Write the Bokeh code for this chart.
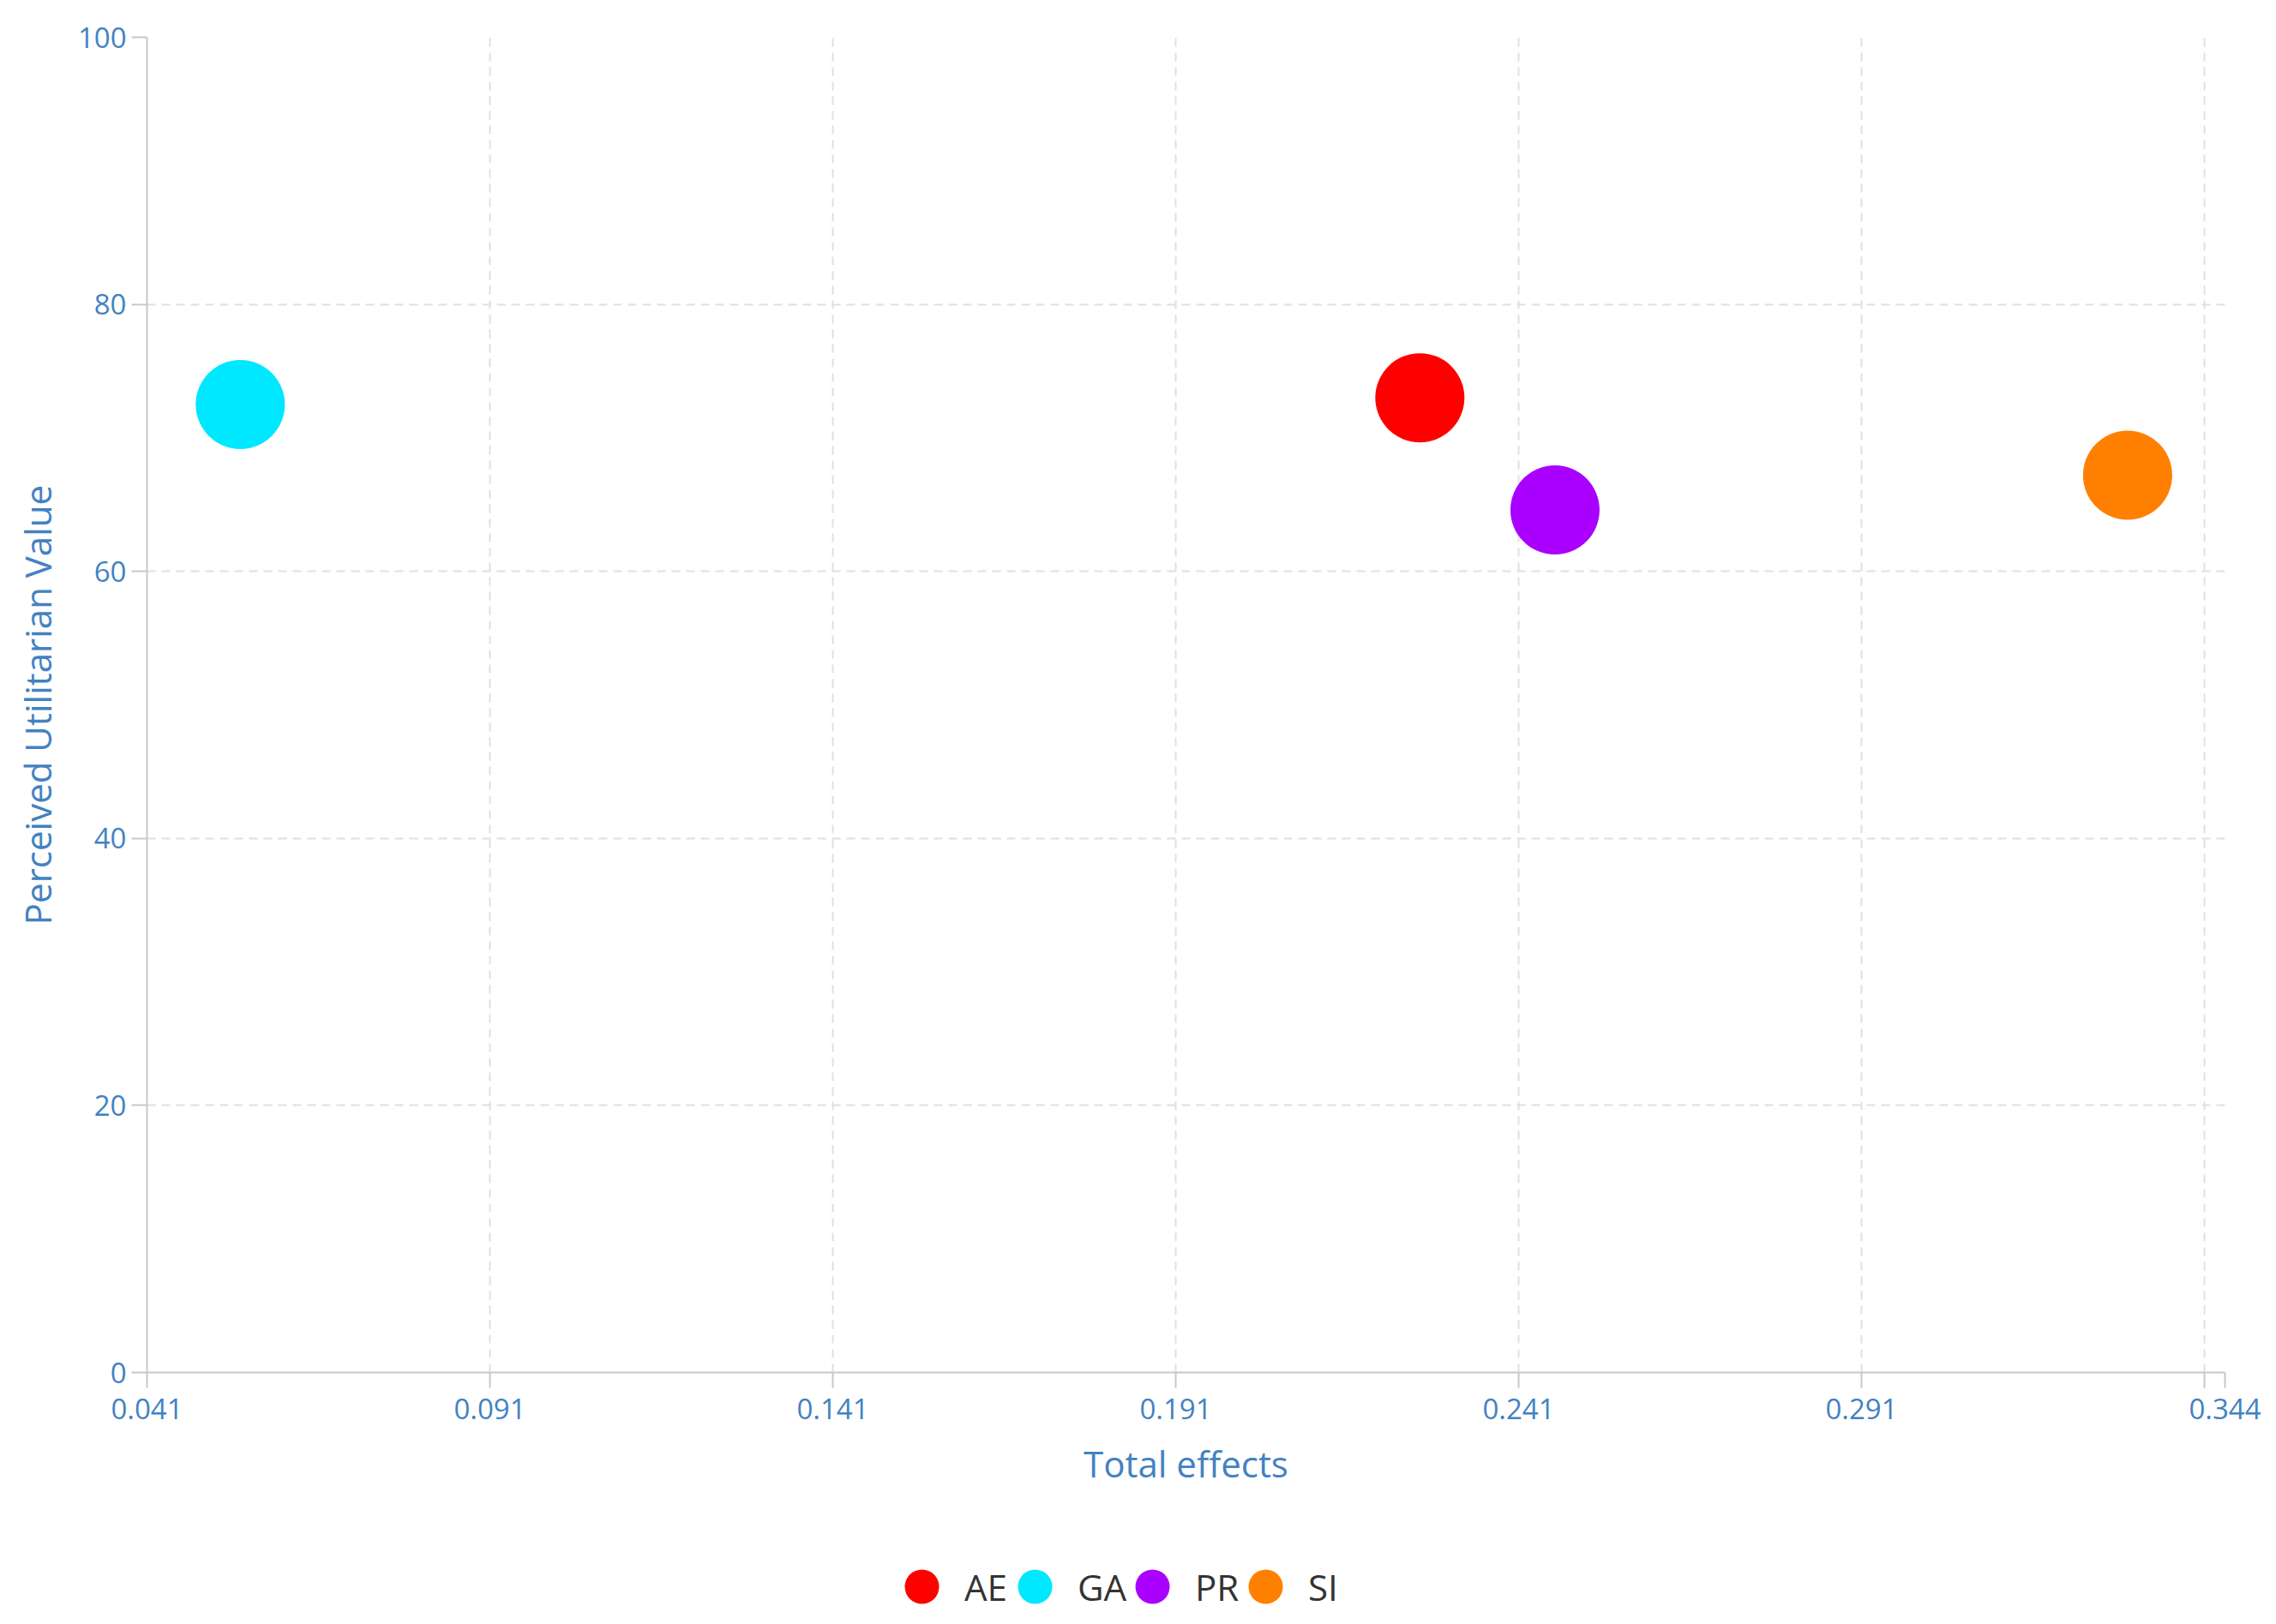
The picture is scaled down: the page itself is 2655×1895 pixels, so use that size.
from bokeh.plotting import figure
from bokeh.layouts import column
from bokeh.models import (ColumnDataSource, Legend, LegendItem, FixedTicker,
                          Range1d)
from bokeh.embed import file_html
from bokeh.resources import INLINE

# ---- data ----
categories = ["AE", "GA", "PR", "SI"]
total_effects = [0.2266, 0.0546, 0.2463, 0.3298]
utilitarian_value = [73.0, 72.5, 64.6, 67.2]
colors = ["#ff0000", "#00e8ff", "#aa00ff", "#ff8000"]

x_ticks = [0.041, 0.091, 0.141, 0.191, 0.241, 0.291, 0.341, 0.344]
x_tick_labels = ["0.041", "0.091", "0.141", "0.191", "0.241", "0.291", "", "0.344"]
y_ticks = [0, 20, 40, 60, 80, 100]
y_tick_labels = ["0", "20", "40", "60", "80", "100"]

FONT = "Open Sans"
AXIS_TEXT = "#4282c2"
AXIS_LINE = "#c8c8c8"
GRID = "#e0e0e0"

W = 2639
H_MAIN = 1760
H_LEG = 119
LEGEND_X = [854, 986, 1123, 1255]   # legend entry positions (screen px from plot frame left)

p = figure(width=W, height=H_MAIN, output_backend="svg", toolbar_location=None,
           x_range=Range1d(x_ticks[0], x_ticks[-1]),
           y_range=Range1d(y_ticks[0], y_ticks[-1]),
           min_border_left=171, min_border_right=44,
           min_border_top=43, min_border_bottom=H_MAIN - 1601)
p.outline_line_color = None
p.background_fill_color = "white"
p.border_fill_color = "white"

sources = []
for cat, xv, yv, c in zip(categories, total_effects, utilitarian_value, colors):
    src = ColumnDataSource(dict(x=[xv], y=[yv], cat=[cat]))
    p.scatter("x", "y", source=src, size=104, fill_color=c, line_color=None,
              marker="circle")
    sources.append((cat, src, c))

# axes
p.xaxis.ticker = FixedTicker(ticks=x_ticks)
p.xaxis.major_label_overrides = {t: l for t, l in zip(x_ticks, x_tick_labels)}
p.yaxis.ticker = FixedTicker(ticks=y_ticks)
p.yaxis.major_label_overrides = {t: l for t, l in zip(y_ticks, y_tick_labels)}
p.xgrid.ticker = FixedTicker(ticks=x_ticks)
p.ygrid.ticker = FixedTicker(ticks=y_ticks)

p.xaxis.axis_label = "Total effects"
p.yaxis.axis_label = "Perceived Utilitarian Value"
for ax in (p.xaxis, p.yaxis):
    ax.axis_line_color = AXIS_LINE
    ax.axis_line_width = 2
    ax.major_tick_line_color = AXIS_LINE
    ax.major_tick_line_width = 2
    ax.major_tick_in = 0
    ax.major_tick_out = 18
    ax.minor_tick_line_color = None
    ax.major_label_text_font = FONT
    ax.major_label_text_font_size = "33px"
    ax.major_label_text_color = AXIS_TEXT
    ax.axis_label_text_font = FONT
    ax.axis_label_text_font_size = "42px"
    ax.axis_label_text_font_style = "normal"
    ax.axis_label_text_color = AXIS_TEXT
p.xaxis.major_label_standoff = 12
p.xaxis.axis_label_standoff = 20
p.yaxis.major_label_standoff = 6
p.yaxis.axis_label_standoff = 16

for g in (p.xgrid, p.ygrid):
    g.grid_line_color = GRID
    g.grid_line_width = 2
    g.grid_line_dash = "10 7"

# ---- legend strip (its own small figure, series drawn out of view) ----
q = figure(width=W, height=H_LEG, output_backend="svg", toolbar_location=None,
           x_range=Range1d(0, 1), y_range=Range1d(-2, -1),
           x_axis_location=None, y_axis_location=None,
           min_border_left=0, min_border_right=0,
           min_border_top=0, min_border_bottom=0)
q.outline_line_color = None
q.xgrid.visible = False
q.ygrid.visible = False
q.background_fill_color = "white"
q.border_fill_color = "white"

for (cat, src, c), lx in zip(sources, LEGEND_X):
    r = q.scatter("x", "y", source=src, size=104, fill_color=c, line_color=None,
                  marker="circle")
    lg = Legend(items=[LegendItem(label=cat, renderers=[r])],
                orientation="horizontal", location=(lx, -22),
                margin=0, padding=0, spacing=0, glyph_width=100, glyph_height=100,
                label_standoff=0,
                border_line_color=None, background_fill_alpha=0,
                label_text_font=FONT, label_text_font_size="42px",
                label_text_color="#333333")
    q.add_layout(lg, "center")

open("out.html", "w").write(file_html(column(p, q, spacing=0), INLINE))
